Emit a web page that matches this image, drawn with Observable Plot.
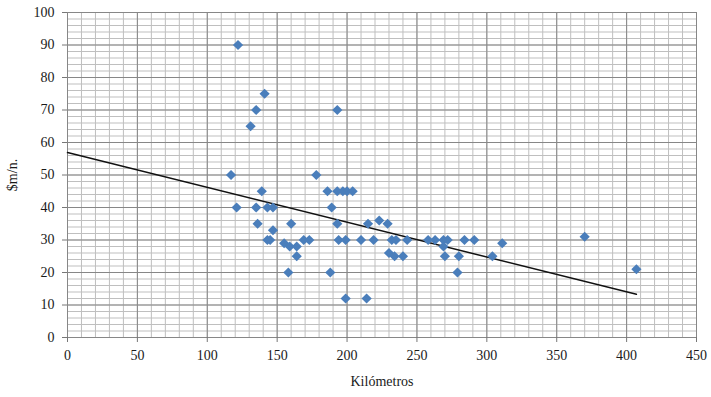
<!DOCTYPE html>
<html><head><meta charset="utf-8">
<script src="https://cdn.jsdelivr.net/npm/d3@7"></script>
<script src="https://cdn.jsdelivr.net/npm/@observablehq/plot@0.6"></script>
<style>
body{margin:0;background:#fff;}
#chart svg{display:block;}
#chart svg, #chart svg text{font-family:"Liberation Serif","Times New Roman",serif !important;}
</style>
</head><body><div id="chart"></div>
<script>
// Data
const km = [122,141,135,131,193, 117,178, 139,186,193,197,200,204, 121,135,143,147,189,
  136,160,193,215,223,229, 147,
  143,145,169,173,194,199,210,219,232,235,243,258,263,269,272,284,291,
  155,159,164,311,269,370,
  164,230,234,240,270,280,304,
  158,188,279,407, 199,214];
const price = [90,75,70,65,70, 50,50, 45,45,45,45,45,45, 40,40,40,40,40,
  35,35,35,35,36,35, 33,
  30,30,30,30,30,30,30,30,30,30,30,30,30,30,30,30,30,
  29,28,28,29,28,31,
  25,26,25,25,25,25,25,
  20,20,20,21, 12,12];
const trendKm = [0, 407];
const trendPrice = [56.9, 13.3];
const xTicks = [0,50,100,150,200,250,300,350,400,450];
const yTicks = [0,10,20,30,40,50,60,70,80,90,100];
const xLabel = "Kilómetros";
const yLabel = "$m/n.";

const points = km.map((k, i) => ({km: k, price: price[i]}));
const trend = trendKm.map((k, i) => ({km: k, price: trendPrice[i]}));

const chart = Plot.plot({
  width: 711, height: 397,
  marginLeft: 67, marginRight: 15, marginTop: 12, marginBottom: 60,
  style: {fontFamily: "'Liberation Serif', 'Times New Roman', serif", fontSize: "14px", color: "#1a1a1a", background: "#fff"},
  x: {domain: [0, 450]},
  y: {domain: [0, 100]},
  marks: [
    Plot.ruleX(d3.range(0, 451, 10), {stroke: "#bfbfbf", strokeWidth: 1}),
    Plot.ruleY(d3.range(0, 101, 2), {stroke: "#bfbfbf", strokeWidth: 1}),
    Plot.ruleX(xTicks, {stroke: "#878787", strokeWidth: 1}),
    Plot.ruleY(yTicks, {stroke: "#878787", strokeWidth: 1}),
    Plot.axisX({ticks: xTicks, tickSize: 5, tickPadding: 8, stroke: "#777", fontSize: 14,
      label: xLabel, labelAnchor: "center", labelArrow: "none", labelOffset: 48}),
    Plot.axisY({ticks: yTicks, tickSize: 5, tickPadding: 8, stroke: "#777", fontSize: 14,
      label: yLabel, labelAnchor: "center", labelArrow: "none", labelOffset: 60}),
    Plot.line(trend, {x: "km", y: "price", stroke: "#111", strokeWidth: 1.5}),
    Plot.dot(points, {x: "km", y: "price", symbol: "diamond2", r: 4.6, fill: "#4a7ebb", stroke: "none"})
  ]
});
document.getElementById("chart").append(chart);
</script>
</body></html>
